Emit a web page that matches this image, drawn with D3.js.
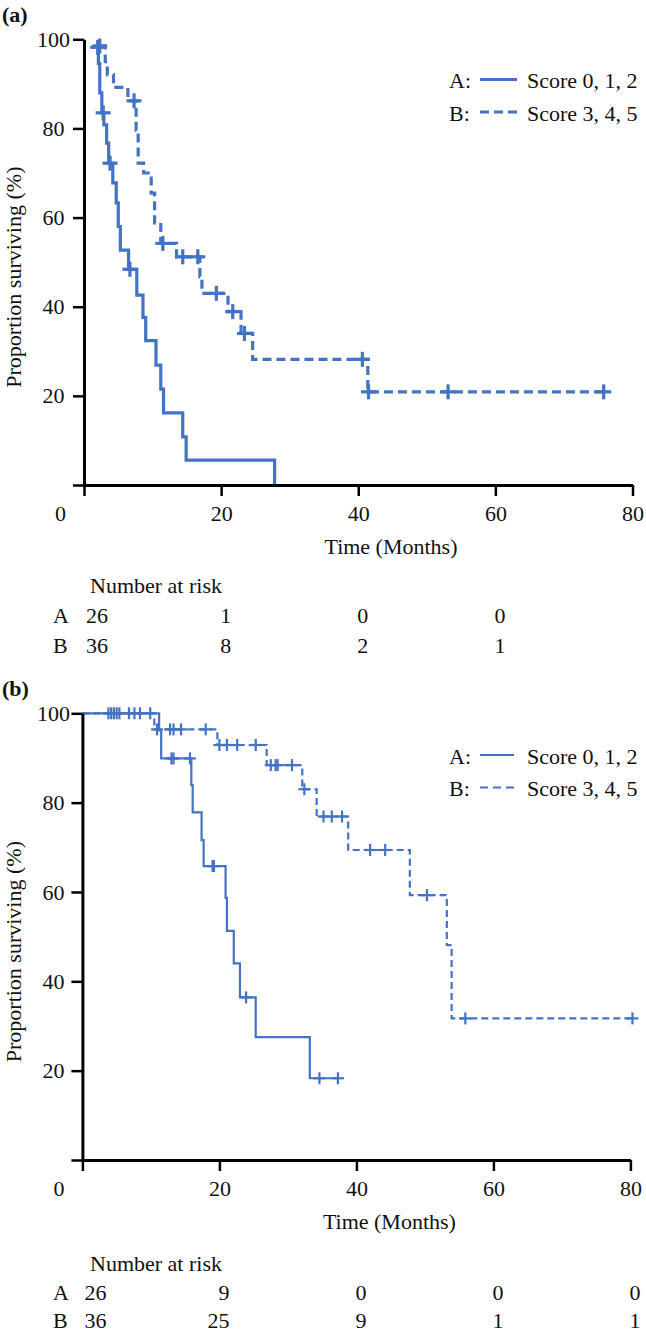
<!DOCTYPE html>
<html><head><meta charset="utf-8">
<script src="https://cdn.jsdelivr.net/npm/d3@7"></script>
<style>
html,body{margin:0;padding:0;background:#fff;}
text{font-family:"Liberation Serif","Times New Roman",serif;fill:#111;}
</style></head>
<body>
<svg id="chart" width="646" height="1333"></svg>
<script>
// ---------- data ----------
const panelLabels = ["(a)", "(b)"];
const groupKeys = ["A:", "B:"];
const seriesNames = ["Score 0, 1, 2", "Score 3, 4, 5"];
const timeTicks = [0, 20, 40, 60, 80];
const survTicks = [0, 20, 40, 60, 80, 100];
const xTitle = "Time (Months)";
const yTitle = "Proportion surviving (%)";
const riskTitle = "Number at risk";
const riskRowNames = ["A", "B"];

// panel (a): step points [time, survival after time]
const aStepsA = [[2.0,98.2],[2.1,94.6],[2.3,88.0],[2.6,83.5],[2.9,80.8],[3.3,76.7],[3.6,72.2],[4.2,67.8],[4.7,63.3],[5.0,58.0],[5.3,52.7],[6.5,48.4],[7.7,42.6],[8.6,37.6],[9.0,32.4],[10.5,26.9],[11.2,21.5],[11.6,16.2],[14.4,10.8],[14.9,5.6],[27.8,0]];
const aCensorA = [[2.0,98.2],[2.8,83.5],[3.8,72.2],[6.7,48.4]];
const aStepsB = [[2.3,98.5],[3.1,95.0],[3.4,92.0],[4.3,89.2],[6.4,86.2],[7.6,79.6],[7.9,72.2],[8.7,70.0],[9.8,65.5],[10.3,58.8],[11.2,54.2],[13.5,51.2],[16.9,46.7],[17.2,43.0],[21.0,38.9],[22.9,34.0],[24.6,28.2],[41.4,20.9],[75.8,20.9]];
const aCensorB = [[2.3,98.5],[7.3,86.2],[11.5,54.2],[14.4,51.2],[16.6,51.2],[19.3,43.0],[21.7,38.9],[23.4,34.0],[40.6,28.2],[41.5,20.9],[53.1,20.9],[75.8,20.9]];
const aRiskTimes = [0, 20, 40, 60];
const aRiskA = [26, 1, 0, 0];
const aRiskB = [36, 8, 2, 1];

// panel (b)
const bStepsA = [[0,100],[11.2,96.2],[11.5,89.9],[15.9,83.9],[16.1,77.8],[17.4,71.6],[17.7,65.8],[20.9,58.7],[21.1,51.3],[22.1,44.0],[23.0,36.4],[25.3,27.5],[33.2,18.3],[37.5,18.3]];
const bCensorA = [[13.0,89.9],[13.3,89.9],[15.7,89.9],[19.0,65.8],[19.2,65.8],[23.9,36.4],[34.6,18.3],[37.3,18.3]];
const bStepsB = [[0,100],[10.5,96.4],[19.7,92.9],[26.9,88.4],[32.1,83.0],[34.2,76.9],[38.8,69.4],[47.8,59.3],[53.2,48.1],[53.9,31.7],[80.3,31.7]];
const bCensorB = [[3.8,100],[4.2,100],[4.6,100],[5.0,100],[5.4,100],[6.8,100],[7.6,100],[8.4,100],[9.9,100],
  [10.9,96.4],[12.8,96.4],[13.3,96.4],[14.4,96.4],[18.0,96.4],
  [20.0,92.9],[21.1,92.9],[22.6,92.9],[25.3,92.9],
  [27.5,88.4],[28.2,88.4],[28.5,88.4],[30.6,88.4],
  [32.4,83.0],[35.2,76.9],[36.4,76.9],[37.9,76.9],[42.0,69.4],[44.2,69.4],[50.3,59.3],[55.9,31.7],[80.3,31.7]];
const bRiskTimes = [0, 20, 40, 60, 80];
const bRiskA = [26, 9, 0, 0, 0];
const bRiskB = [36, 25, 9, 1, 1];

// ---------- drawing ----------
const BLUE = "#4472C4";
const FONT = 22;
const svg = d3.select("#chart");

function drawPanel(o) {
  const g = svg.append("g");
  const x = d3.scaleLinear().domain([0, 80]).range([o.x0, o.x1]);
  const y = d3.scaleLinear().domain([0, 100]).range([o.y0, o.y1]);

  g.append("text").attr("x", 2).attr("y", o.y1 - 17).attr("font-size", FONT)
    .attr("font-weight", "bold").text(o.label);

  // curves
  const line = d3.line().x(d => x(d[0])).y(d => y(d[1])).curve(d3.curveStepAfter);
  const series = [
    {steps: o.stepsA, censor: o.censorA, dash: null},
    {steps: o.stepsB, censor: o.censorB, dash: o.dash}
  ];
  series.forEach(s => {
    g.append("path").datum(s.steps).attr("d", line).attr("fill", "none")
      .attr("stroke", BLUE).attr("stroke-width", o.sw)
      .attr("stroke-dasharray", s.dash);
    const m = g.append("g").selectAll("g").data(s.censor).join("g")
      .attr("transform", d => `translate(${x(d[0])},${y(d[1])})`);
    m.append("line").attr("x1", -o.ms).attr("x2", o.ms).attr("stroke", BLUE).attr("stroke-width", o.sw);
    m.append("line").attr("y1", -o.ms).attr("y2", o.ms).attr("stroke", BLUE).attr("stroke-width", o.sw);
  });

  // axes
  const ya = d3.axisLeft(y).tickValues(survTicks).tickSize(11).tickSizeOuter(0)
    .tickFormat(d => d === 0 ? "" : d);
  const gy = g.append("g").attr("transform", `translate(${o.x0},0)`).call(ya);
  const xa = d3.axisBottom(x).tickValues(timeTicks).tickSize(11).tickSizeOuter(0).tickPadding(9);
  const gx = g.append("g").attr("transform", `translate(0,${o.y0})`).call(xa);
  [gy, gx].forEach(a => {
    a.select(".domain").attr("stroke", "#000").attr("stroke-width", 3);
    a.selectAll(".tick line").attr("stroke", "#000").attr("stroke-width", 2.5);
    a.selectAll(".tick text").attr("font-size", FONT).attr("fill", "#111");
  });
  gy.selectAll(".tick text").attr("x", 53.5 - o.x0).attr("text-anchor", "middle");
  gx.selectAll(".tick text").filter(d => d === 0).attr("dx", -24);

  // titles
  g.append("text").attr("x", o.x0 + 307).attr("y", o.y0 + 69).attr("text-anchor", "middle")
    .attr("font-size", FONT).text(xTitle);
  g.append("text").attr("transform", `translate(21,${(o.y0 + o.y1) / 2 + 15}) rotate(-90)`)
    .attr("text-anchor", "middle").attr("font-size", FONT).text(yTitle);

  // legend
  const lg = g.append("g");
  [0, 1].forEach(i => {
    const ly = o.legY + i * 32.5;
    lg.append("text").attr("x", 449).attr("y", ly + 8.5).attr("font-size", FONT).text(groupKeys[i]);
    lg.append("line").attr("x1", 480).attr("x2", 480 + o.legLen).attr("y1", ly).attr("y2", ly)
      .attr("stroke", BLUE).attr("stroke-width", o.sw)
      .attr("stroke-dasharray", i === 1 ? o.legDash : null);
    lg.append("text").attr("x", 527).attr("y", ly + 8.5).attr("font-size", FONT).text(seriesNames[i]);
  });

  // risk table
  const rt = g.append("g");
  rt.append("text").attr("x", 90).attr("y", o.y0 + o.riskTop).attr("font-size", FONT).text(riskTitle);
  [o.riskA, o.riskB].forEach((row, r) => {
    const ry = o.y0 + o.riskTop + o.rowGap * (r + 1);
    rt.append("text").attr("x", 53).attr("y", ry).attr("font-size", FONT).text(riskRowNames[r]);
    row.forEach((v, i) => {
      const t = o.riskTimes[i];
      rt.append("text")
        .attr("x", t === 0 ? x(t) + 2 : x(t) + 10)
        .attr("text-anchor", t === 0 ? "start" : "end")
        .attr("y", ry).attr("font-size", FONT).text(v);
    });
  });
}

drawPanel({label: panelLabels[0], x0: 84, x1: 632.5, y0: 485, y1: 39.3,
  stepsA: aStepsA, censorA: aCensorA, stepsB: aStepsB, censorB: aCensorB,
  sw: 3.2, ms: 7.5, dash: "9,5", legDash: "9,5", legLen: 37, legY: 79.5,
  riskTimes: aRiskTimes, riskA: aRiskA, riskB: aRiskB, riskTop: 108, rowGap: 30});

drawPanel({label: panelLabels[1], x0: 82.4, x1: 630.4, y0: 1160, y1: 713.3,
  stepsA: bStepsA, censorA: bCensorA, stepsB: bStepsB, censorB: bCensorB,
  sw: 2.2, ms: 6, dash: "7,4", legDash: "8,5", legLen: 34, legY: 755,
  riskTimes: bRiskTimes, riskA: bRiskA, riskB: bRiskB, riskTop: 111, rowGap: 28.5});
</script>
</body></html>
